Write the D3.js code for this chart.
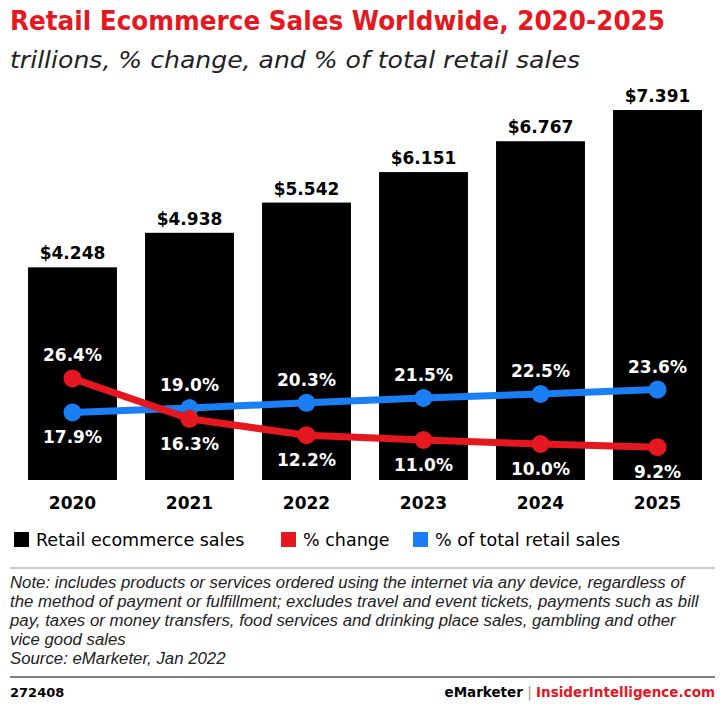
<html>
<head>
<meta charset="utf-8">
<style>
  body { margin: 0; background: #fff; font-family: "DejaVu Sans", sans-serif; }
</style>
</head>
<body>
<div id="chart"></div>
<script src="https://d3js.org/d3.v7.min.js"></script>
<script>
var years = ["2020", "2021", "2022", "2023", "2024", "2025"];
var sales = [4.248, 4.938, 5.542, 6.151, 6.767, 7.391];
var pctChange = [26.4, 16.3, 12.2, 11.0, 10.0, 9.2];
var pctTotal = [17.9, 19.0, 20.3, 21.5, 22.5, 23.6];

var W = 725, H = 707;
var red = "#e5171f", blue = "#1a7ef5";

var svg = d3.select("#chart").append("svg").attr("width", W).attr("height", H);

svg.append("text").attr("x", 10).attr("y", 30).attr("fill", red)
  .attr("textLength", 655).attr("lengthAdjust", "spacingAndGlyphs")
  .style("font-size", "26px").style("font-weight", "bold")
  .text("Retail Ecommerce Sales Worldwide, 2020-2025");
svg.append("text").attr("x", 10).attr("y", 68).attr("fill", "#222")
  .attr("textLength", 570).attr("lengthAdjust", "spacingAndGlyphs")
  .style("font-size", "23px").style("font-style", "italic")
  .text("trillions, % change, and % of total retail sales");

var x = d3.scaleBand().domain(years).range([14, 716]).paddingInner(0.24).paddingOuter(0.12);
var y = d3.scaleLinear().domain([0, 7.391]).range([480, 110]);
var yp = d3.scaleLinear().domain([0, 30]).range([484, 364]);
var cx = function(i) { return x(years[i]) + x.bandwidth() / 2; };

svg.append("g").selectAll("rect").data(sales).enter().append("rect")
  .attr("x", function(d, i) { return x(years[i]); })
  .attr("y", function(d) { return y(d); })
  .attr("width", x.bandwidth())
  .attr("height", function(d) { return 480 - y(d); })
  .attr("fill", "#000");

svg.append("g").selectAll("text").data(sales).enter().append("text")
  .attr("x", function(d, i) { return cx(i); })
  .attr("y", function(d) { return y(d) - 8; })
  .attr("text-anchor", "middle").style("font-size", "17px").style("font-weight", "bold")
  .text(function(d) { return "$" + d.toFixed(3); });

function drawLine(vals, color) {
  var line = d3.line().x(function(d, i) { return cx(i); }).y(function(d) { return yp(d); });
  svg.append("path").datum(vals).attr("d", line).attr("fill", "none")
    .attr("stroke", color).attr("stroke-width", 7);
  svg.append("g").selectAll("circle").data(vals).enter().append("circle")
    .attr("cx", function(d, i) { return cx(i); }).attr("cy", function(d) { return yp(d); })
    .attr("r", 9).attr("fill", color);
}
drawLine(pctTotal, blue);
drawLine(pctChange, red);

function labels(vals, above) {
  svg.append("g").selectAll("text").data(vals).enter().append("text")
    .attr("x", function(d, i) { return cx(i); })
    .attr("y", function(d, i) { return above(i) ? yp(d) - 17 : yp(d) + 31; })
    .attr("text-anchor", "middle").attr("fill", "#fff")
    .style("font-size", "17px").style("font-weight", "bold")
    .text(function(d) { return d.toFixed(1) + "%"; });
}
labels(pctChange, function(i) { return i === 0; });
labels(pctTotal, function(i) { return i !== 0; });

svg.append("g").selectAll("text").data(years).enter().append("text")
  .attr("x", function(d, i) { return cx(i); }).attr("y", 509)
  .attr("text-anchor", "middle").style("font-size", "17px").style("font-weight", "bold")
  .text(function(d) { return d; });

var legend = [["Retail ecommerce sales", "#000", 14], ["% change", red, 281], ["% of total retail sales", blue, 413]];
legend.forEach(function(l) {
  svg.append("rect").attr("x", l[2]).attr("y", 532).attr("width", 15).attr("height", 15).attr("fill", l[1]);
  svg.append("text").attr("x", l[2] + 22).attr("y", 546).style("font-size", "17.5px").text(l[0]);
});

svg.append("line").attr("x1", 10).attr("x2", 715).attr("y1", 568).attr("y2", 568).attr("stroke", "#999");
var note = [
  "Note: includes products or services ordered using the internet via any device, regardless of",
  "the method of payment or fulfillment; excludes travel and event tickets, payments such as bill",
  "pay, taxes or money transfers, food services and drinking place sales, gambling and other",
  "vice good sales",
  "Source: eMarketer, Jan 2022"
];
note.forEach(function(t, i) {
  svg.append("text").attr("x", 10).attr("y", 588 + i * 19).attr("fill", "#222")
    .style("font-family", "'Liberation Sans', Arial, sans-serif")
    .style("font-size", "16.8px").style("font-style", "italic").text(t);
});
svg.append("line").attr("x1", 10).attr("x2", 715).attr("y1", 677).attr("y2", 677).attr("stroke", "#000");
svg.append("text").attr("x", 10).attr("y", 697).style("font-size", "13px").style("font-weight", "bold").text("272408");
var ft = svg.append("text").attr("x", 715).attr("y", 697).attr("text-anchor", "end")
  .style("font-size", "13.5px").style("font-weight", "bold");
ft.append("tspan").text("eMarketer");
ft.append("tspan").attr("fill", "#999").style("font-weight", "normal").text(" | ");
ft.append("tspan").attr("fill", red).text("InsiderIntelligence.com");
</script>
</body>
</html>
